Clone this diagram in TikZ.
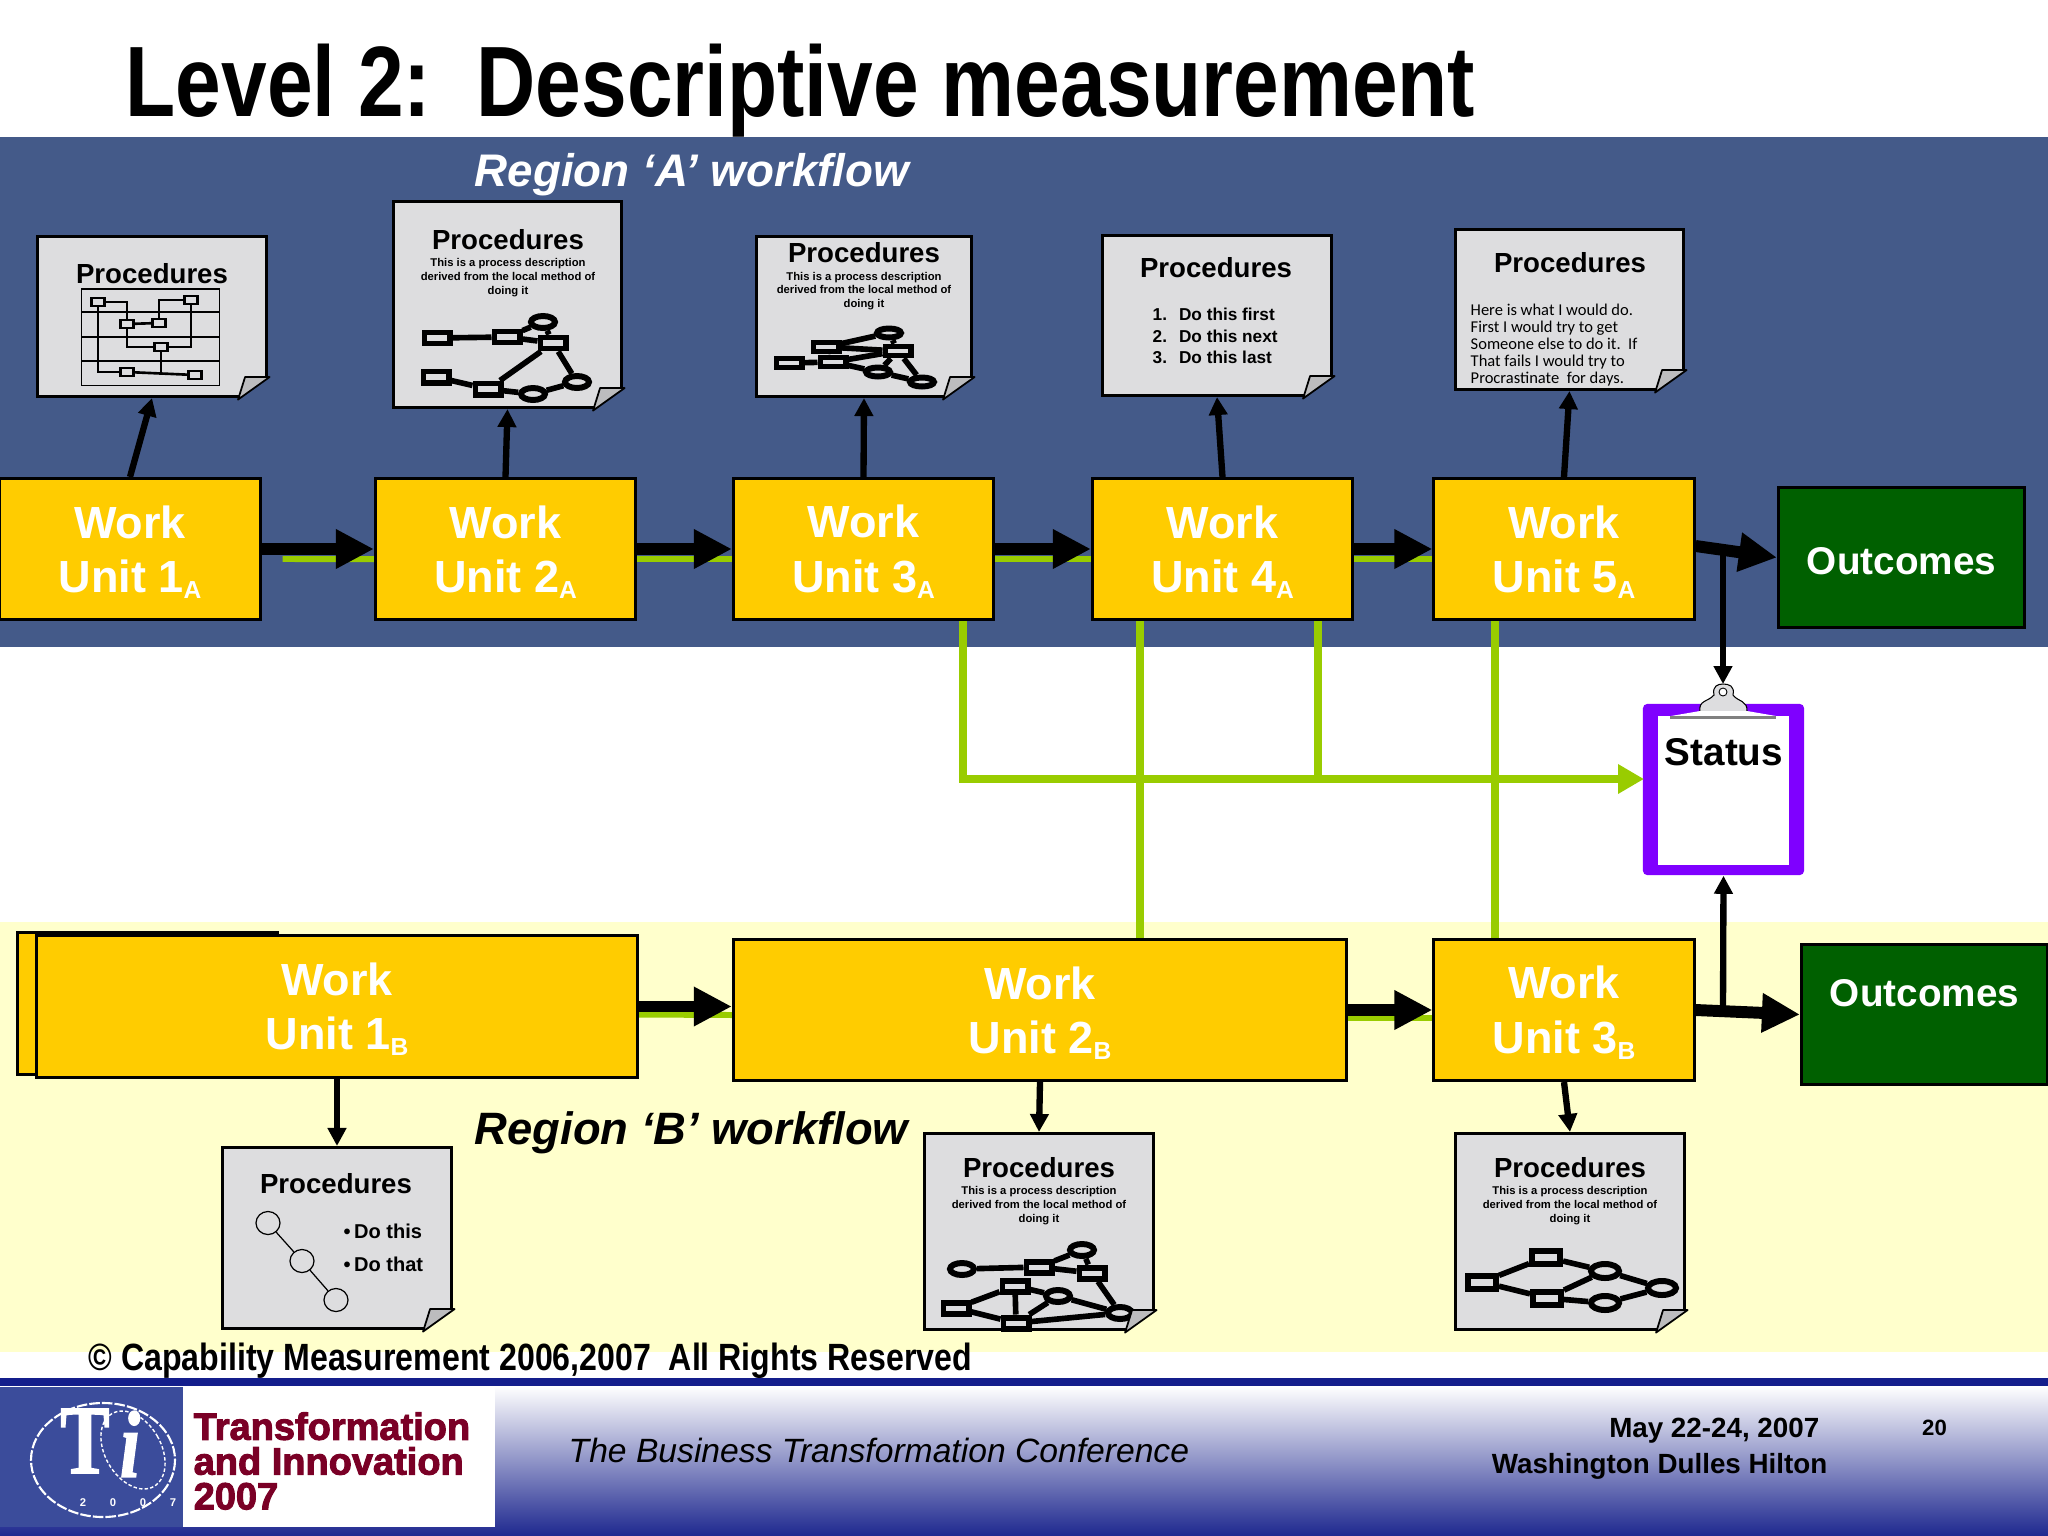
\documentclass[tikz,border=0pt]{standalone}
\usepackage{fontspec}
\usetikzlibrary{arrows.meta,shapes.geometric}
\setmainfont{Liberation Sans}
\newfontfamily\narrowfam{Liberation Sans}[FakeStretch=0.82]
\newfontfamily\copyfam{Liberation Sans}[FakeStretch=0.845]
\newfontfamily\logofam{Liberation Sans}[FakeBold=2.6]
\newfontfamily\handfam{Carlito}
\newfontfamily\crestfam{Liberation Serif}[FakeStretch=0.75,FakeBold=1.5]
\definecolor{panelblue}{HTML}{445A89}
\definecolor{panelcream}{HTML}{FFFFCC}
\definecolor{unitgold}{HTML}{FFCC00}
\definecolor{outgreen}{HTML}{006000}
\definecolor{linkgreen}{HTML}{99CC00}
\definecolor{pagegrey}{HTML}{DDDDDF}
\definecolor{boardpurple}{HTML}{7F00FF}
\definecolor{footblue}{HTML}{1E288F}
\definecolor{footmid}{HTML}{AAAAD7}
\definecolor{bandblue}{HTML}{141E8C}
\definecolor{logoblue}{HTML}{3B4C9B}
\definecolor{logored}{HTML}{7A0026}
\newcommand{\unittext}[2]{Work\\Unit #1\smash{\raisebox{-1.7pt}{\fontsize{7}{7}\selectfont #2}}}
\newcommand{\pagefold}[2]{
	\fill[#2] ([shift={(-30,1.5)}]#1.south east) -- ([shift={(1.5,-21)}]#1.south east) -- ([shift={(1.5,1.5)}]#1.south east) -- cycle;
	\draw[foldflap] ([shift={(-30,1.5)}]#1.south east) -- ([shift={(-23,-21)}]#1.south east) -- ([shift={(1.5,-21)}]#1.south east) -- cycle;
}
\tikzset{
	workunit/.style={rectangle,draw=black,line width=0.85pt,fill=unitgold,text=white,align=center,inner sep=0pt,
		minimum height=1.41cm,font=\fontsize{12.8}{15.4}\selectfont\bfseries},
	outcome/.style={rectangle,draw=black,line width=0.85pt,fill=outgreen,text=white,inner sep=0pt,
		minimum width=2.46cm,minimum height=1.4cm,font=\fontsize{11}{13}\selectfont\bfseries},
	procpage/.style={rectangle,draw=black,line width=0.85pt,fill=pagegrey,inner sep=0pt},
	foldflap/.style={fill=pagegrey!85!black,draw=black,line width=0.5pt,line join=round},
	proctitle/.style={inner sep=0pt,font=\fontsize{7.85}{9}\selectfont\bfseries},
	procnote/.style={inner sep=0pt,align=center,font=\fontsize{3.2}{3.9}\selectfont\bfseries},
	flowthick/.style={line width=3.4pt,-{Triangle[length=0.38cm,width=0.37cm]}},
	flowthin/.style={line width=1.8pt,-{Triangle[length=0.18cm,width=0.18cm]}},
	linkgreen line/.style={draw=linkgreen,line width=2.3pt},
	minibox/.style={rectangle,draw=black,line width=0.75pt,fill=pagegrey,inner sep=0pt,minimum width=0.13cm,minimum height=0.08cm},
	miniline/.style={draw=black,line width=0.75pt},
	graphrect/.style={rectangle,draw=black,line width=1.7pt,fill=pagegrey,inner sep=0pt,minimum width=0.25cm,minimum height=0.11cm},
	graphoval/.style={ellipse,draw=black,line width=1.7pt,fill=pagegrey,inner sep=0pt,minimum width=0.24cm,minimum height=0.12cm},
	graphline/.style={draw=black,line width=1.6pt},
	stepoval/.style={ellipse,draw=black,line width=0.35pt,fill=pagegrey,inner sep=0pt,minimum width=0.24cm,minimum height=0.23cm},
}

\begin{document}
\begin{tikzpicture}[x=0.01cm,y=-0.01cm]
	\useasboundingbox (0,0) rectangle (2048,1536);
	\fill[white] (0,0) rectangle (2048,1536);
	\fill[panelblue] (0,137) rectangle (2048,647);
	\fill[panelcream] (0,922) rectangle (2048,1352);

	\node[anchor=base west,inner sep=0pt,font=\narrowfam\bfseries\fontsize{28.45}{30}\selectfont] (title) at (125,116) {Level 2:\ \ Descriptive measurement};
	\node[anchor=west,inner sep=0pt,text=white,font=\fontsize{13}{15}\selectfont\bfseries\itshape] (regiona) at (474,175) {Region ‘A’ workflow};
	\node[anchor=west,inner sep=0pt,font=\fontsize{12.9}{15}\selectfont\bfseries\itshape] (regionb) at (474,1133) {Region ‘B’ workflow};

	% region A units
	\node[workunit,minimum width=2.6cm] (wu1a) at (130,549) {\unittext{1}{A}};
	\node[workunit,minimum width=2.6cm] (wu2a) at (505.5,549) {\unittext{2}{A}};
	\node[workunit,minimum width=2.6cm] (wu3a) at (863.5,549) {\unittext{3}{A}};
	\node[workunit,minimum width=2.6cm] (wu4a) at (1222.5,549) {\unittext{4}{A}};
	\node[workunit,minimum width=2.6cm] (wu5a) at (1564,549) {\unittext{5}{A}};
	\node[outcome] (outa) at (1901.5,557.5) {\rule{0pt}{9.6pt}Outcomes};

	% region B units
	\node[workunit,minimum width=2.6cm] (wu1bback) at (147.5,1003.5) {};
	\node[workunit,minimum width=6.01cm] (wu1b) at (337,1006.5) {\unittext{1}{B}};
	\node[workunit,minimum width=6.13cm] (wu2b) at (1040,1010) {\unittext{2}{B}};
	\node[workunit,minimum width=2.6cm] (wu3b) at (1564,1010) {\unittext{3}{B}};
	\node[outcome] (outb) at (1924.5,1014.5) {};
	\node[inner sep=0pt,text=white,font=\fontsize{11}{13}\selectfont\bfseries] (outblabel) at (1924.5,993) {Outcomes};

	% clipboard
	\node[rectangle,fill=boardpurple,rounded corners=1.2pt,inner sep=0pt,minimum width=1.61cm,minimum height=1.71cm] (status) at (1723.5,789.5) {};
	\node[rectangle,fill=white,inner sep=0pt,minimum width=1.31cm,minimum height=1.49cm] (statuspaper) at (1723.5,790.5) {};
	\draw[fill=pagegrey,draw=black,line width=0.3pt] (1700,712) .. controls (1698,700) and (1708,702) .. (1714,695) .. controls (1712,686) and (1718,684) .. (1723,684) .. controls (1729,684) and (1735,686) .. (1733,695) .. controls (1738,702) and (1748,700) .. (1747,712) -- cycle;
	\draw[fill=white,draw=black,line width=0.25pt] (1723,692) circle (4);
	\fill[white] (1671,716) -- (1700,711) -- (1747,711) -- (1776,716) -- cycle;
	\fill[gray] (1670,716) rectangle (1776,719);
	\node[inner sep=0pt,font=\fontsize{11}{13}\selectfont\bfseries] (statuslabel) at (1724,752) {Status};
	\coordinate (clipa) at (1723,684);

	% pages
	\node[procpage,minimum width=2.29cm,minimum height=1.6cm] (p1a) at (152,316.5) {};
	\node[procpage,minimum width=2.28cm,minimum height=2.06cm] (p2a) at (507.5,304.5) {};
	\node[procpage,minimum width=2.15cm,minimum height=1.6cm] (p3a) at (864,316.5) {};
	\node[procpage,minimum width=2.29cm,minimum height=1.6cm] (p4a) at (1217,315.5) {};
	\node[procpage,minimum width=2.28cm,minimum height=1.6cm] (p5a) at (1569.5,309.5) {};
	\node[procpage,minimum width=2.29cm,minimum height=1.81cm] (p1b) at (337,1238) {};
	\node[procpage,minimum width=2.29cm,minimum height=1.96cm] (p2b) at (1039,1231.5) {};
	\node[procpage,minimum width=2.29cm,minimum height=1.96cm] (p3b) at (1570,1231.5) {};

	\node[proctitle] (t1a) at (152,274) {Procedures};
	\node[proctitle] (t2a) at (508,240) {Procedures};
	\node[proctitle] (t3a) at (864,253) {Procedures};
	\node[proctitle] (t4a) at (1216,268) {Procedures};
	\node[proctitle] (t5a) at (1570,263) {Procedures};
	\node[proctitle] (t1b) at (336,1184) {Procedures};
	\node[proctitle] (t2b) at (1039,1168) {Procedures};
	\node[proctitle] (t3b) at (1570,1168) {Procedures};

	\node[procnote] (n2a) at (508,277.5) {This is a process description\\derived from the local method of\\doing it};
	\node[procnote] (n3a) at (864,291) {This is a process description\\derived from the local method of\\doing it};
	\node[procnote] (n2b) at (1039,1205.5) {This is a process description\\derived from the local method of\\doing it};
	\node[procnote] (n3b) at (1570,1205.5) {This is a process description\\derived from the local method of\\doing it};
	\node[anchor=west,inner sep=0pt,align=left,font=\fontsize{4.9}{6.1}\selectfont\bfseries] (n4a) at (1152,336) {1.\hspace{3.4pt}Do this first\\2.\hspace{3.4pt}Do this next\\3.\hspace{3.4pt}Do this last};
	\node[anchor=west,inner sep=0pt,align=left,font=\handfam\fontsize{4.7}{4.85}\selectfont] (n5a) at (1470,345) {Here is what I would do.\\First I would try to get\\Someone else to do it.\ \ If\\That fails I would try to\\Procrastinate\ \ for days.};
	\node[anchor=west,inner sep=0pt,font=\fontsize{5.7}{7}\selectfont\bfseries] (dothis) at (343,1231) {\textbullet\,Do this};
	\node[anchor=west,inner sep=0pt,font=\fontsize{5.7}{7}\selectfont\bfseries] (dothat) at (343,1264) {\textbullet\,Do that};

	% swimlane chart on page 1
	\node[rectangle,draw=black,line width=0.3pt,inner sep=0pt,minimum width=1.37cm,minimum height=0.96cm] (lanes) at (150.5,337) {};
	\foreach \n/\y in {1/312,2/337,3/361}
		\draw[miniline] (lanes.west |- 0,\y) -- (lanes.east |- 0,\y);
	\foreach \n/\x/\y in {1/98/302,2/127/324,3/159/323,4/191/300,5/161/347,6/127/372,7/195/375}
		\node[minibox] (a\n) at (\x,\y) {};
	\draw[miniline] (a1) -| (a2);
	\draw[miniline] (a1) |- (a6);
	\draw[miniline] (a2) -- (a3);
	\draw[miniline] (a3) |- (a4);
	\draw[miniline] (a2) |- (a5);
	\draw[miniline] (a4) |- (a5);
	\draw[miniline] (a5) -- (161,372);
	\draw[miniline] (a6) -- (a7);

	% graph on page 2
	\foreach \n/\x/\y in {1/437/338,2/507/337,3/553/343,4/436/377,5/488/389}
		\node[graphrect] (b\n) at (\x,\y) {};
	\foreach \n/\x/\y in {6/543/322,7/533/394,8/577/382}
		\node[graphoval] (b\n) at (\x,\y) {};
	\foreach \s/\t in {1/2,2/6,2/3,6/3,3/5,3/8,4/5,5/7,7/8}
		\draw[graphline] (b\s) -- (b\t);

	% graph on page 3
	\foreach \n/\x/\y in {1/789/363,2/826/347,3/833/362,4/898/351}
		\node[graphrect,minimum height=0.09cm] (c\n) at (\x,\y) {};
	\foreach \n/\x/\y in {5/889/333,6/878/372,7/922/382}
		\node[graphoval,minimum height=0.09cm] (c\n) at (\x,\y) {};
	\foreach \s/\t in {1/3,2/3,2/5,2/4,3/4,3/6,5/4,4/6,4/7,6/7}
		\draw[graphline] (c\s) -- (c\t);

	% graph on page B2
	\foreach \n/\x/\y in {1/1039/1267,2/1092/1273,3/1015/1286,4/956/1308,5/1016/1323}
		\node[graphrect] (d\n) at (\x,\y) {};
	\foreach \n/\x/\y in {6/962/1269,7/1082/1250,8/1058/1296,9/1120/1313}
		\node[graphoval] (d\n) at (\x,\y) {};
	\foreach \s/\t in {6/1,1/7,1/2,7/2,2/9,3/8,3/4,3/5,4/5,8/5,8/9,5/9}
		\draw[graphline] (d\s) -- (d\t);

	% graph on page B3
	\foreach \n/\x/\y in {1/1482/1282,2/1546/1257,3/1547/1298}
		\node[graphrect,minimum width=0.28cm,minimum height=0.13cm] (e\n) at (\x,\y) {};
	\foreach \n/\x/\y in {4/1605/1271,5/1605/1303,6/1662/1288}
		\node[graphoval,minimum width=0.28cm,minimum height=0.14cm] (e\n) at (\x,\y) {};
	\foreach \s/\t in {1/2,1/3,2/4,3/4,3/5,4/6,5/6}
		\draw[graphline] (e\s) -- (e\t);

	% steps on page B1
	\node[stepoval] (s1) at (268,1223) {};
	\node[stepoval] (s2) at (302,1261) {};
	\node[stepoval] (s3) at (336,1300) {};
	\draw[draw=black,line width=0.35pt] (s1) -- (s2);
	\draw[draw=black,line width=0.35pt] (s2) -- (s3);

	\pagefold{p1a}{panelblue}
	\pagefold{p2a}{panelblue}
	\pagefold{p3a}{panelblue}
	\pagefold{p4a}{panelblue}
	\pagefold{p5a}{panelblue}
	\pagefold{p1b}{panelcream}
	\pagefold{p2b}{panelcream}
	\pagefold{p3b}{panelcream}

	% green status links
	\coordinate (xred) at (963,0);
	\coordinate (xfour) at (1140,0);
	\coordinate (xfourb) at (1318,0);
	\coordinate (xfive) at (1495,0);
	\coordinate (statusin) at (1644,779);
	\draw[linkgreen line] (wu4a.south -| xfour) -- (wu2b.north -| xfour);
	\draw[linkgreen line] (wu5a.south -| xfive) -- (wu3b.north -| xfive);
	\draw[linkgreen line] (wu4a.south -| xfourb) -- (statusin -| xfourb);
	\draw[linkgreen line,-{Triangle[length=0.26cm,width=0.28cm]}] (wu3a.south -| xred) |- (statusin);

	% green tracks under the flow arrows
	\draw[linkgreen line,line width=1.7pt] ([shift={(21,10)}]wu1a.east) -- ([yshift=-0.1cm]wu2a.west);
	\draw[linkgreen line,line width=1.7pt] ([yshift=-0.1cm]wu2a.east) -- ([yshift=-0.1cm]wu3a.west);
	\draw[linkgreen line,line width=1.7pt] ([yshift=-0.1cm]wu3a.east) -- ([yshift=-0.1cm]wu4a.west);
	\draw[linkgreen line,line width=1.7pt] ([yshift=-0.1cm]wu4a.east) -- ([yshift=-0.1cm]wu5a.west);
	\draw[linkgreen line,line width=1.7pt] ([yshift=-0.08cm]wu1b.east) -- ([yshift=-0.05cm]wu2b.west);
	\draw[linkgreen line,line width=1.7pt] ([yshift=-0.08cm]wu2b.east) -- ([yshift=-0.08cm]wu3b.west);

	% main flows
	\draw[flowthick] (wu1a) -- (wu2a);
	\draw[flowthick] (wu2a) -- (wu3a);
	\draw[flowthick] (wu3a) -- (wu4a);
	\draw[flowthick] (wu4a) -- (wu5a);
	\draw[flowthick] ([yshift=0.03cm]wu5a.east) -- (outa.west);
	\draw[flowthick] (wu1b.east) -- (wu1b.east -| wu2b.west);
	\draw[flowthick] (wu2b) -- (wu3b);
	\draw[flowthick] (wu3b.east) -- (outb.west);

	% to the pages and the board
	\draw[flowthin] (wu1a.north) -- (p1a.south);
	\draw[flowthin] (wu2a.north) -- (p2a.south);
	\draw[flowthin] (wu3a.north) -- (p3a.south);
	\draw[flowthin] (wu4a.north) -- (p4a.south);
	\draw[flowthin] (wu5a.north) -- (p5a.south);
	\draw[flowthin] (wu1b.south) -- (p1b.north);
	\draw[flowthin] (wu2b.south) -- (p2b.north);
	\draw[flowthin] (wu3b.south) -- (p3b.north);
	\coordinate (dropa) at (1723,553);
	\coordinate (dropb) at (1723,1010);
	\draw[flowthin] (dropa) -- (clipa);
	\draw[flowthin] (dropb) -- (status.south);

	% footer
	\node[anchor=base west,inner sep=0pt,font=\copyfam\bfseries\fontsize{10.8}{12}\selectfont] (copyright) at (88,1370) {© Capability Measurement 2006,2007\ \ All Rights Reserved};
	\shade[top color=white,middle color=footmid,bottom color=footblue] (0,1386) rectangle (2048,1536);
	\fill[bandblue] (0,1378) rectangle (2048,1386);
	\fill[logoblue] (0,1387) rectangle (183,1527);
	\fill[white] (183,1387) rectangle (495,1527);
	\draw[white,line width=0.6pt,dash pattern=on 3pt off 0.6pt] (103,1460) ellipse (72 and 57);
	\draw[white,line width=0.4pt,dash pattern=on 1pt off 0.6pt,rotate around={30:(133,1450)}] (133,1450) ellipse (28 and 42);
	\node[inner sep=0pt,text=white,font=\crestfam\bfseries\fontsize{28}{30}\selectfont] (logot) at (85,1441) {T};
	\node[inner sep=0pt,text=white,font=\crestfam\bfseries\itshape\fontsize{27}{30}\selectfont] (logoi) at (130,1444) {i};
	\foreach \n/\x/\d in {1/83/2,2/113/0,3/143/0,4/173/7}
		\node[inner sep=0pt,text=white,font=\fontsize{3.2}{4}\selectfont\bfseries] (logoy\n) at (\x,1503) {\d};
	\node[anchor=west,inner sep=0pt,align=left,text=logored,font=\logofam\bfseries\fontsize{10.8}{9.9}\selectfont] (logoname) at (193,1461) {Transformation\\and Innovation\\2007};
	\node[anchor=west,inner sep=0pt,font=\itshape\fontsize{9.57}{12}\selectfont] (conf) at (568,1450) {The Business Transformation Conference};
	\node[anchor=east,inner sep=0pt,font=\fontsize{7.9}{9}\selectfont\bfseries] (date) at (1820,1431) {May 22-24, 2007};
	\node[anchor=east,inner sep=0pt,font=\fontsize{7.9}{9}\selectfont\bfseries] (venue) at (1828,1466) {Washington Dulles Hilton};
	\node[inner sep=0pt,font=\fontsize{6.3}{8}\selectfont\bfseries] (pageno) at (1934.5,1428) {20};
\end{tikzpicture}
\end{document}
